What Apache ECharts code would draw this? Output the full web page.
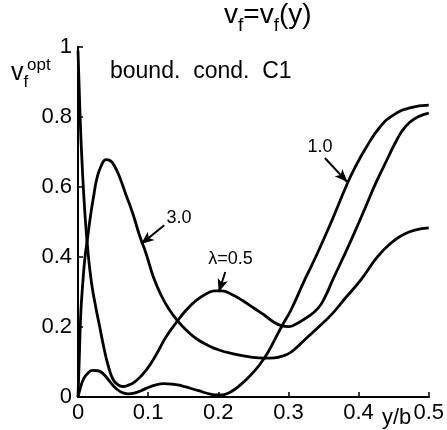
<!DOCTYPE html>
<html><head><meta charset="utf-8">
<script src="https://cdn.jsdelivr.net/npm/echarts@6/dist/echarts.min.js"></script>
<style>html,body{margin:0;padding:0;background:#fff}#c{width:447px;height:430px}</style>
</head><body><div id="c"></div>
<script>
// ---- data ----
const xTicks = [0, 0.1, 0.2, 0.3, 0.4, 0.5];
const yTicks = [0, 0.2, 0.4, 0.6, 0.8, 1];

// lambda = 0.5
const lam05X = [0, 0.003, 0.006, 0.010, 0.014, 0.019, 0.025, 0.031, 0.037, 0.043, 0.050, 0.057, 0.064, 0.072, 0.080, 0.090, 0.102, 0.114, 0.125, 0.141, 0.155, 0.170, 0.185, 0.195, 0.205, 0.220, 0.235, 0.250, 0.265, 0.280, 0.290, 0.300, 0.313, 0.327, 0.342, 0.352, 0.363, 0.378, 0.394, 0.410, 0.425, 0.441, 0.452, 0.462, 0.473, 0.485, 0.500];
const lam05Y = [0.99, 0.80, 0.66, 0.52, 0.42, 0.33, 0.26, 0.20, 0.14, 0.09, 0.05, 0.035, 0.030, 0.034, 0.042, 0.060, 0.090, 0.130, 0.170, 0.215, 0.250, 0.278, 0.297, 0.303, 0.303, 0.292, 0.275, 0.255, 0.235, 0.213, 0.204, 0.201, 0.211, 0.228, 0.253, 0.285, 0.334, 0.398, 0.469, 0.543, 0.613, 0.680, 0.725, 0.760, 0.785, 0.801, 0.811];

// lambda = 1.0
const lam10X = [0, 0.004, 0.008, 0.014, 0.021, 0.028, 0.035, 0.043, 0.050, 0.057, 0.064, 0.072, 0.080, 0.090, 0.100, 0.110, 0.122, 0.134, 0.148, 0.160, 0.172, 0.185, 0.196, 0.205, 0.213, 0.222, 0.231, 0.240, 0.250, 0.260, 0.270, 0.280, 0.290, 0.304, 0.323, 0.340, 0.360, 0.384, 0.396, 0.410, 0.430, 0.450, 0.473, 0.500];
const lam10Y = [0, 0.030, 0.052, 0.068, 0.076, 0.075, 0.068, 0.050, 0.033, 0.020, 0.012, 0.009, 0.011, 0.018, 0.027, 0.034, 0.038, 0.037, 0.032, 0.025, 0.018, 0.010, 0.006, 0.006, 0.010, 0.020, 0.034, 0.050, 0.071, 0.095, 0.125, 0.162, 0.200, 0.250, 0.334, 0.405, 0.495, 0.610, 0.660, 0.710, 0.770, 0.806, 0.826, 0.834];

// lambda = 3.0
const lam30X = [0, 0.002, 0.004, 0.007, 0.010, 0.014, 0.018, 0.022, 0.027, 0.033, 0.040, 0.046, 0.052, 0.059, 0.068, 0.078, 0.088, 0.097, 0.108, 0.120, 0.130, 0.141, 0.155, 0.170, 0.185, 0.200, 0.220, 0.247, 0.265, 0.280, 0.293, 0.305, 0.323, 0.343, 0.363, 0.380, 0.403, 0.426, 0.445, 0.464, 0.480, 0.500];
const lam30Y = [0, 0.12, 0.24, 0.33, 0.40, 0.46, 0.52, 0.57, 0.625, 0.66, 0.678, 0.675, 0.66, 0.63, 0.58, 0.525, 0.46, 0.41, 0.34, 0.285, 0.25, 0.22, 0.19, 0.165, 0.148, 0.135, 0.124, 0.114, 0.111, 0.112, 0.118, 0.130, 0.163, 0.200, 0.239, 0.280, 0.334, 0.398, 0.438, 0.464, 0.477, 0.483];

const curveNames = ['λ=0.5', '1.0', '3.0'];

// annotation labels and arrows (data coordinates)
const labelText = ['3.0', 'λ=0.5', '1.0'];
const labelX = [0.144, 0.2175, 0.345];
const labelY = [0.511, 0.394, 0.714];
const arrowFromX = [0.123, 0.210, 0.352];
const arrowFromY = [0.491, 0.357, 0.683];
const arrowToX = [0.090, 0.2006, 0.384];
const arrowToY = [0.437, 0.300, 0.614];
const arrowCurve = [0, 0, -0.3];

const FONT = 'Liberation Sans, Arial, Helvetica, sans-serif';
const zip = (xs, ys) => xs.map((x, i) => [x, ys[i]]);

const chart = echarts.init(document.getElementById('c'), null, {renderer: 'canvas'});

const curveSeries = [zip(lam05X, lam05Y), zip(lam10X, lam10Y), zip(lam30X, lam30Y)].map((d, i) => ({
  name: curveNames[i],
  type: 'line',
  data: d,
  smooth: 0.5,
  showSymbol: false,
  silent: true,
  lineStyle: {color: '#000', width: 2.8},
  z: 3
}));

const annotSeries = {
  type: 'line',
  data: [],
  silent: true,
  markPoint: {
    symbol: 'circle',
    symbolSize: 0,
    silent: true,
    label: {show: true, position: 'inside', color: '#000', fontFamily: FONT, fontSize: 18, formatter: p => p.name},
    data: labelText.map((t, i) => ({name: t, coord: [labelX[i], labelY[i]]}))
  },
  markLine: {
    silent: true,
    symbol: ['none', 'arrow'],
    symbolSize: [8, 13],
    label: {show: false},
    lineStyle: {color: '#000', width: 2, type: 'solid'},
    data: labelText.map((t, i) => [
      {coord: [arrowFromX[i], arrowFromY[i]], lineStyle: {curveness: arrowCurve[i], color: '#000', width: 2, type: 'solid'}},
      {coord: [arrowToX[i], arrowToY[i]]}
    ])
  }
};

chart.setOption({
  animation: false,
  backgroundColor: '#fff',
  grid: {left: 78, right: 15, top: 47, bottom: 33, containLabel: false},
  xAxis: [{
    type: 'value', min: xTicks[0], max: xTicks[xTicks.length - 1], interval: 0.1,
    axisLine: {show: true, onZero: false, lineStyle: {color: '#000', width: 2}},
    axisTick: {show: true, inside: true, length: 5, lineStyle: {color: '#000', width: 1.5}},
    axisLabel: {color: '#000', fontFamily: FONT, fontSize: 22, margin: 5, showMaxLabel: true, showMinLabel: true},
    splitLine: {show: false}
  }, {
    type: 'value', position: 'top', min: xTicks[0], max: xTicks[xTicks.length - 1],
    axisLine: {show: true, lineStyle: {color: '#000', width: 2}},
    axisTick: {show: false}, axisLabel: {show: false}, splitLine: {show: false}
  }],
  yAxis: [{
    type: 'value', min: yTicks[0], max: yTicks[yTicks.length - 1], interval: 0.2,
    axisLine: {show: true, onZero: false, lineStyle: {color: '#000', width: 2}},
    axisTick: {show: true, inside: true, length: 5, lineStyle: {color: '#000', width: 1.5}},
    axisLabel: {color: '#000', fontFamily: FONT, fontSize: 22, margin: 6, padding: [5, 0, 0, 0]},
    splitLine: {show: false}
  }, {
    type: 'value', position: 'right', min: yTicks[0], max: yTicks[yTicks.length - 1],
    axisLine: {show: true, lineStyle: {color: '#000', width: 2}},
    axisTick: {show: false}, axisLabel: {show: false}, splitLine: {show: false}
  }],
  graphic: [
    {type: 'text', left: 224, top: 1, style: {
      text: '{m|v}{s|f}{m|=v}{s|f}{m|(y)}', fill: '#000',
      rich: {
        m: {fontFamily: FONT, fontSize: 28, lineHeight: 31, verticalAlign: 'top', fill: '#000'},
        s: {fontFamily: FONT, fontSize: 19, lineHeight: 19, verticalAlign: 'top', padding: [15, 0, 0, 0], fill: '#000'}
      }}},
    {type: 'text', left: 11, top: 61, style: {
      text: '{m|v}{s|f}', fill: '#000',
      rich: {
        m: {fontFamily: FONT, fontSize: 25, lineHeight: 26, verticalAlign: 'top', fill: '#000'},
        s: {fontFamily: FONT, fontSize: 17, lineHeight: 17, verticalAlign: 'top', padding: [13, 0, 0, 0], fill: '#000'}
      }}},
    {type: 'text', left: 27, top: 57, style: {text: 'opt', fill: '#000', font: '17px ' + FONT}},
    {type: 'text', left: 110, top: 60, style: {text: 'bound.  cond.  C1', fill: '#000', font: '23px ' + FONT}},
    {type: 'text', left: 382, top: 407, style: {text: 'y/b', fill: '#000', font: '22px ' + FONT}}
  ],
  series: [...curveSeries, annotSeries]
});
</script>
</body></html>
